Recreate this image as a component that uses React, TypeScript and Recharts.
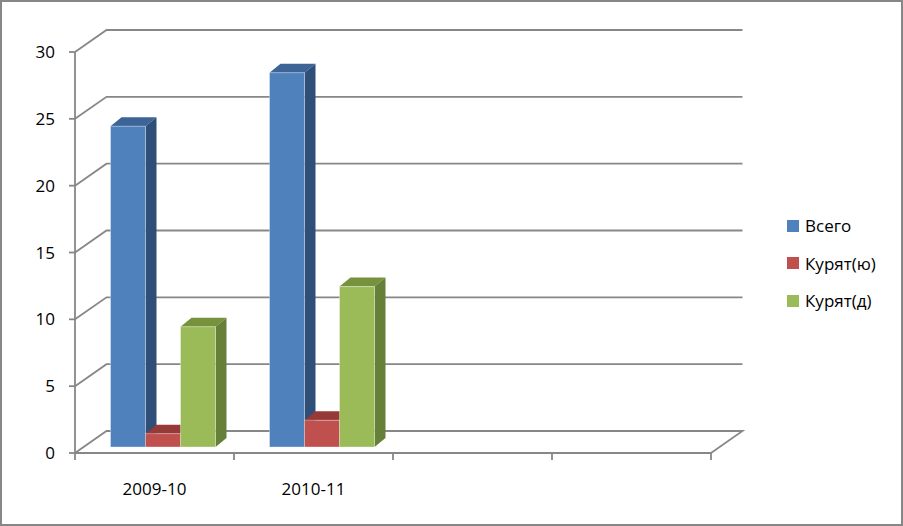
import React from 'react';
import { Bar, BarChart, CartesianGrid, Legend, XAxis, YAxis } from 'recharts';

const categories = ['2009-10', '2010-11', '', ''];
const seriesNames = ['Всего', 'Курят(ю)', 'Курят(д)'];
const totalValues = [24, 28, null, null];
const boysValues = [1, 2, null, null];
const girlsValues = [9, 12, null, null];
const yTicks = [0, 5, 10, 15, 20, 25, 30];

const data = categories.map((cat, i) => ({
  cat,
  total: totalValues[i],
  boys: boysValues[i],
  girls: girlsValues[i],
}));

const W = 903;
const H = 526;
const M = { top: 52, right: 192, left: 0, bottom: 33 };
const Y_AXIS_W = 75;
const X_AXIS_H = 40;
const PLOT_LEFT = M.left + Y_AXIS_W;
const PLOT_W = W - PLOT_LEFT - M.right;
const PLOT_BOTTOM = H - M.bottom - X_AXIS_H;
const BAND = PLOT_W / categories.length;

// 3d look
const WALL_DX = 31.5;
const WALL_DY = -22;
const SHIFT_X = 8.5;
const SHIFT_Y = -6;
const DEPTH_X = 11;
const DEPTH_Y = -9;

const GRAY = '#878787';
const FONT = '"Open Sans", sans-serif';
const FS = 17;

const makeBox = (front: string, top: string, side: string) => (props: any) => {
  const { x, y, width, height } = props;
  if (!height || height <= 0) return <g />;
  const fx = x + SHIFT_X;
  const fy = y + SHIFT_Y;
  const r = fx + width;
  return (
    <g>
      <polygon
        points={`${fx},${fy} ${fx + DEPTH_X},${fy + DEPTH_Y} ${r + DEPTH_X},${fy + DEPTH_Y} ${r},${fy}`}
        fill={top}
      />
      <polygon
        points={`${r},${fy} ${r + DEPTH_X},${fy + DEPTH_Y} ${r + DEPTH_X},${fy + height + DEPTH_Y} ${r},${fy + height}`}
        fill={side}
      />
      <rect x={fx} y={fy} width={width} height={height} fill={front} stroke="rgba(255,255,255,0.35)" strokeWidth={1} />
    </g>
  );
};

const GridLine = (props: any) => {
  const { x1, y1, x2 } = props;
  const isFloor = Math.abs(y1 - PLOT_BOTTOM) < 1;
  let d = `M${x1},${y1} L${x1 + WALL_DX},${y1 + WALL_DY} L${x2 + WALL_DX},${y1 + WALL_DY}`;
  if (isFloor) d += ` L${x2},${y1}`;
  return <path d={d} fill="none" stroke={GRAY} strokeWidth={1.8} />;
};

const XTick = (props: any) => {
  const { x, payload, index } = props;
  const half = BAND / 2;
  return (
    <g>
      <line x1={x - half} y1={PLOT_BOTTOM} x2={x - half} y2={PLOT_BOTTOM + 7} stroke={GRAY} strokeWidth={1.8} />
      {index === categories.length - 1 && (
        <line x1={x + half} y1={PLOT_BOTTOM} x2={x + half} y2={PLOT_BOTTOM + 7} stroke={GRAY} strokeWidth={1.8} />
      )}
      <text x={x} y={PLOT_BOTTOM + 42} textAnchor="middle" fontSize={FS} fontFamily={FONT} fill="#000">
        {payload.value}
      </text>
    </g>
  );
};

const LegendBox = ({ payload }: any) => {
  const items = [...(payload || [])].sort(
    (a: any, b: any) => seriesNames.indexOf(a.value) - seriesNames.indexOf(b.value),
  );
  return (
    <div style={{ fontFamily: FONT, fontSize: FS, color: '#000' }}>
      {items.map((p: any) => (
        <div key={p.value} style={{ height: 37.5, display: 'flex', alignItems: 'center' }}>
          <span style={{ width: 12, height: 12, background: p.color, marginRight: 6, display: 'inline-block' }} />
          <span>{p.value}</span>
        </div>
      ))}
    </div>
  );
};

export default function App() {
  return (
    <div style={{ position: 'relative', width: W, height: H }}>
      <style>{'body{margin:0}'}</style>
      <BarChart width={W} height={H} data={data} margin={M} barGap={0} barSize={35}>
        <CartesianGrid vertical={false} horizontal={GridLine} />
        <XAxis
          dataKey="cat"
          height={X_AXIS_H}
          interval={0}
          tickLine={false}
          axisLine={{ stroke: GRAY, strokeWidth: 1.8 }}
          tick={XTick}
        />
        <YAxis
          width={Y_AXIS_W}
          domain={[0, 30]}
          ticks={yTicks}
          tickSize={6}
          tickMargin={14}
          axisLine={{ stroke: GRAY, strokeWidth: 1.8 }}
          tickLine={{ stroke: GRAY, strokeWidth: 1.8 }}
          tick={{ fill: '#000', fontSize: FS, fontFamily: FONT }}
        />
        <Legend
          layout="horizontal"
          verticalAlign="middle"
          align="center"
          wrapperStyle={{ left: 787, top: 207, width: 115 }}
          content={LegendBox}
        />
        <Bar dataKey="total" name={seriesNames[0]} fill="#4F81BD" isAnimationActive={false} shape={makeBox('#4F81BD', '#3C6496', '#2F4E78')} />
        <Bar dataKey="boys" name={seriesNames[1]} fill="#C0504D" isAnimationActive={false} shape={makeBox('#C0504D', '#953A37', '#8B3633')} />
        <Bar dataKey="girls" name={seriesNames[2]} fill="#9BBB59" isAnimationActive={false} shape={makeBox('#9BBB59', '#76923C', '#66803A')} />
      </BarChart>
      <div
        style={{
          position: 'absolute',
          left: 0,
          top: 0,
          width: W,
          height: H,
          boxSizing: 'border-box',
          border: `2px solid ${GRAY}`,
          pointerEvents: 'none',
        }}
      />
    </div>
  );
}
